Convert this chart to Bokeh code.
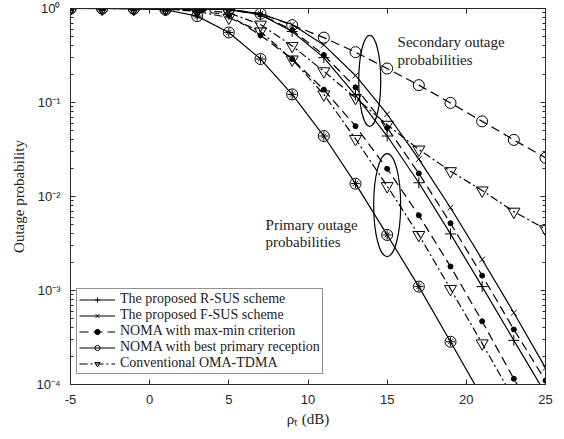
from bokeh.plotting import figure
from bokeh.models import (Range1d, FixedTicker, LinearAxis, LogAxis, Legend,
                          LegendItem, Label, CustomJSTickFormatter)
from bokeh.embed import file_html
from bokeh.resources import INLINE

# ---------------- data ----------------
snr_db = [-5, -3, -1, 1, 3, 5, 7, 9, 11, 13, 15, 17, 19, 21, 23, 25]

# primary outage (R-SUS = F-SUS = best primary reception)
primary_optimal = [1.0, 0.999, 0.995, 0.97, 0.83, 0.556, 0.29, 0.122, 0.044,
                   0.0137, 0.0039, 1.1e-3, 2.85e-4, 7.3e-5, 1.9e-5, 4.8e-6]
primary_maxmin = [1.0, 1.0, 0.999, 0.99, 0.95, 0.85, 0.52, 0.29, 0.137,
                  0.056, 0.0197, 6.3e-3, 1.8e-3, 4.7e-4, 1.15e-4, 3.0e-5]
primary_oma = [1.0, 1.0, 0.998, 0.985, 0.93, 0.80, 0.57, 0.287, 0.122,
               0.041, 0.0129, 3.9e-3, 1.04e-3, 2.74e-4, 7.0e-5, 1.8e-5]

# secondary outage
secondary_rsus = [1.0, 1.0, 1.0, 0.998, 0.99, 0.97, 0.86, 0.57, 0.30,
                  0.12, 0.044, 0.014, 4.0e-3, 1.1e-3, 2.95e-4, 8.0e-5]
secondary_fsus = [1.0, 1.0, 1.0, 0.999, 0.995, 0.98, 0.88, 0.675, 0.41,
                  0.194, 0.075, 0.025, 7.6e-3, 2.14e-3, 5.8e-4, 1.5e-4]
secondary_maxmin = [1.0, 1.0, 1.0, 0.998, 0.99, 0.97, 0.86, 0.59, 0.32,
                    0.145, 0.054, 0.0176, 5.2e-3, 1.44e-3, 3.85e-4, 1.1e-4]
secondary_best = [1.0, 1.0, 1.0, 0.999, 0.995, 0.98, 0.88, 0.665, 0.49,
                  0.343, 0.23, 0.153, 0.099, 0.063, 0.040, 0.0258]
secondary_oma = [1.0, 1.0, 0.999, 0.995, 0.97, 0.90, 0.675, 0.40, 0.215,
                 0.112, 0.058, 0.0316, 0.0186, 0.0116, 0.0069, 0.0045]

x_ticks = [-5, 0, 5, 10, 15, 20, 25]
x_tick_labels = ["-5", "0", "5", "10", "15", "20", "25"]
y_ticks = [1e-4, 1e-3, 1e-2, 1e-1, 1.0]
y_tick_labels = ["10\u207b\u2074", "10\u207b\u00b3", "10\u207b\u00b2", "10\u207b\u00b9", "10\u2070"]
y_minor = [k * 10.0 ** d for d in range(-4, 0) for k in range(2, 10)]

legend_labels = ["The proposed R-SUS scheme",
                 "The proposed F-SUS scheme",
                 "NOMA with max-min criterion",
                 "NOMA with best primary reception",
                 "Conventional OMA-TDMA"]

# ---------------- styling ----------------
AX = "#262626"
SERIF = "Liberation Serif"
SANS = "Liberation Sans"
LW = 1.2
DASH = "9 5"
DASHDOT = "8 3 2 3"

p = figure(width=556, height=430,
           x_range=Range1d(-5, 25), y_range=Range1d(1e-4, 1.0),
           y_axis_type="log", output_backend="svg", toolbar_location=None,
           min_border_left=70, min_border_right=11,
           min_border_top=8, min_border_bottom=46)
p.background_fill_color = "white"
p.border_fill_color = "white"
p.outline_line_color = AX
p.outline_line_width = 1
p.xgrid.visible = False
p.ygrid.visible = False

# bottom axis
xa = p.xaxis[0]
xa.ticker = FixedTicker(ticks=x_ticks, minor_ticks=[])
xa.major_label_overrides = dict(zip(x_ticks, x_tick_labels))
xa.axis_label = "\u03c1\u209c (dB)"
# left axis
ya = p.yaxis[0]
ya.ticker = FixedTicker(ticks=y_ticks, minor_ticks=y_minor)
ya.major_label_overrides = dict(zip(y_ticks, y_tick_labels))
ya.axis_label = "Outage probability"

for ax in (xa, ya):
    ax.axis_line_color = AX
    ax.major_tick_line_color = AX
    ax.minor_tick_line_color = AX
    ax.major_tick_in = 5
    ax.major_tick_out = 0
    ax.minor_tick_in = 3
    ax.minor_tick_out = 0
    ax.major_label_text_font = SANS
    ax.major_label_text_font_size = "13px"
    ax.major_label_text_color = AX
    ax.axis_label_text_font = SERIF
    ax.axis_label_text_font_size = "15px"
    ax.axis_label_text_font_style = "normal"
    ax.axis_label_text_color = AX
xa.major_label_standoff = 10
xa.axis_label_standoff = 4
ya.major_label_standoff = 10
ya.axis_label_standoff = 6

# top & right box axes with inward ticks only
blank = CustomJSTickFormatter(code="return '';")
top = LinearAxis(ticker=FixedTicker(ticks=x_ticks, minor_ticks=[]), formatter=blank)
right = LogAxis(ticker=FixedTicker(ticks=y_ticks, minor_ticks=y_minor), formatter=blank)
for ax in (top, right):
    ax.axis_line_color = AX
    ax.major_tick_line_color = AX
    ax.minor_tick_line_color = AX
    ax.major_tick_in = 5
    ax.major_tick_out = 0
    ax.minor_tick_in = 3
    ax.minor_tick_out = 0
    ax.major_label_standoff = 0
    ax.major_label_text_font_size = "1px"
p.add_layout(top, "above")
p.add_layout(right, "right")

# ---------------- curves ----------------
def curve(y, dash):
    return p.line(snr_db, y, line_color="black", line_width=LW, line_dash=dash)

def marks(y, marker, size, fill=False):
    return p.scatter(snr_db, y, marker=marker, size=size, line_color="black",
                     line_width=1.0,
                     fill_color="black" if fill else None)

# primary
l_pri_opt = curve(primary_optimal, "solid")
m_pri_c = marks(primary_optimal, "circle", 11)
m_pri_p = marks(primary_optimal, "cross", 9)
m_pri_x = marks(primary_optimal, "x", 7)
l_pri_mm = curve(primary_maxmin, DASH)
m_pri_mm = marks(primary_maxmin, "circle", 5, fill=True)
l_pri_oma = curve(primary_oma, DASHDOT)
m_pri_oma = marks(primary_oma, "inverted_triangle", 12)

# secondary
l_sec_r = curve(secondary_rsus, "solid")
m_sec_r = marks(secondary_rsus, "cross", 11)
l_sec_f = curve(secondary_fsus, "solid")
m_sec_f = marks(secondary_fsus, "x", 8)
l_sec_mm = curve(secondary_maxmin, DASH)
m_sec_mm = marks(secondary_maxmin, "circle", 5, fill=True)
l_sec_b = curve(secondary_best, DASH)
m_sec_b = marks(secondary_best, "circle", 11)
l_sec_oma = curve(secondary_oma, DASHDOT)
m_sec_oma = marks(secondary_oma, "inverted_triangle", 12)

# ---------------- annotations ----------------
p.ellipse(x=[13.9], y=[0.170], width=22, height=91,
          width_units="screen", height_units="screen",
          fill_color=None, line_color="black", line_width=LW)
p.ellipse(x=[15.0], y=[8.1e-3], width=27, height=103,
          width_units="screen", height_units="screen",
          fill_color=None, line_color="black", line_width=LW)

for (xx, yy, txt) in [(15.66, 0.435, "Secondary outage"),
                      (15.66, 0.28, "probabilities"),
                      (7.32, 5.0e-3, "Primary outage"),
                      (7.32, 3.25e-3, "probabilities")]:
    p.add_layout(Label(x=xx, y=yy, text=txt, text_font=SERIF,
                       text_font_size="15px", text_color="#222222",
                       text_baseline="middle", text_align="left"))

# ---------------- legend ----------------
items = [
    LegendItem(label=legend_labels[0], renderers=[l_sec_r, m_sec_r]),
    LegendItem(label=legend_labels[1], renderers=[l_sec_f, m_sec_f]),
    LegendItem(label=legend_labels[2], renderers=[l_sec_mm, m_sec_mm]),
    LegendItem(label=legend_labels[3], renderers=[l_pri_opt, m_sec_b]),
    LegendItem(label=legend_labels[4], renderers=[l_sec_oma, m_sec_oma]),
]
legend = Legend(items=items, location=(6, 10))
legend.label_text_font = SERIF
legend.label_text_font_size = "14px"
legend.label_text_color = "#222222"
legend.label_height = 13
legend.glyph_height = 13
legend.glyph_width = 36
legend.label_standoff = 5
legend.spacing = 0
legend.padding = 2
legend.margin = 0
legend.border_line_color = AX
legend.border_line_width = 1
legend.background_fill_color = "white"
legend.background_fill_alpha = 1.0
p.add_layout(legend, "center")

open("out.html", "w").write(file_html(p, INLINE))
